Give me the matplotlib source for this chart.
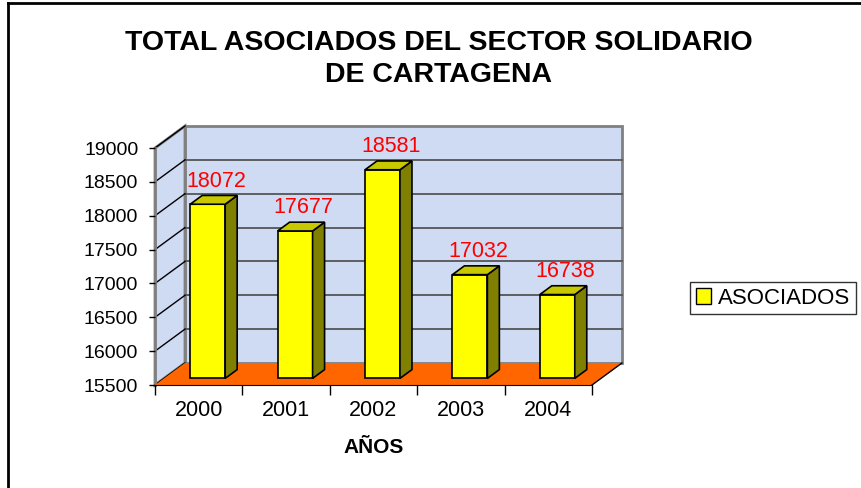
import matplotlib.pyplot as plt
from matplotlib.patches import Polygon

plt.rcParams['font.family'] = ['Liberation Sans', 'DejaVu Sans']

years = ['2000', '2001', '2002', '2003', '2004']
asociados = [18072, 17677, 18581, 17032, 16738]
y_ticks = [15500, 16000, 16500, 17000, 17500, 18000, 18500, 19000]

ymin, ymax = 15500, 19000
# depth of the fake 3d box, in data units (x: categories, y: values)
dx, dy = 0.343, 325
wall = '#cfdaf3'

fig = plt.figure(figsize=(8.61, 4.88), dpi=100)
ax = fig.add_axes([155 / 861, 103 / 488, 437 / 861, 237 / 488])
ax.set_xlim(-0.5, len(years) - 0.5)
ax.set_ylim(ymin, ymax)
ax.patch.set_visible(False)
for s in ['top', 'right', 'left']:
    ax.spines[s].set_visible(False)
ax.spines['bottom'].set_color('black')

x0, x1 = -0.5, len(years) - 0.5

# back wall
ax.add_patch(Polygon([(x0 + dx, ymin + dy), (x1 + dx, ymin + dy), (x1 + dx, ymax + dy), (x0 + dx, ymax + dy)],
                     closed=True, fc=wall, ec='#808080', lw=2, clip_on=False, zorder=0))
# left wall
ax.add_patch(Polygon([(x0, ymin), (x0 + dx, ymin + dy), (x0 + dx, ymax + dy), (x0, ymax)],
                     closed=True, fc=wall, ec='#808080', lw=2, clip_on=False, zorder=0))
# floor
ax.add_patch(Polygon([(x0, ymin), (x1, ymin), (x1 + dx, ymin + dy), (x0 + dx, ymin + dy)],
                     closed=True, fc='#ff6600', ec='none', clip_on=False, zorder=1))
ax.plot([x1, x1 + dx], [ymin, ymin + dy], color='black', lw=1, clip_on=False, zorder=2)

# gridlines on back wall and left wall
for t in y_ticks[1:-1]:
    ax.plot([x0 + dx, x1 + dx], [t + dy, t + dy], color='#555555', lw=1.3, clip_on=False, zorder=0.5)
for t in y_ticks:
    ax.plot([x0, x0 + dx], [t, t + dy], color='black', lw=1, clip_on=False, zorder=0.5)
ax.plot([x0, x0], [ymin, ymax], color='#808080', lw=2, clip_on=False, zorder=0.6)

# bars
bw = 0.40
bdx, bdy = 0.4 * dx, 0.4 * dy
off_x, off_y = 0.3 * dx, 0.3 * dy
for i, v in enumerate(asociados):
    xl = i + off_x - bw / 2
    xr = xl + bw
    b = ymin + off_y
    top = v + off_y
    ax.bar(i + off_x, v - ymin, bottom=b, width=bw, color='#ffff00', edgecolor='black', lw=1.2, zorder=3)
    ax.add_patch(Polygon([(xr, b), (xr + bdx, b + bdy), (xr + bdx, top + bdy), (xr, top)],
                         closed=True, fc='#808000', ec='black', lw=1.2, zorder=3, clip_on=False))
    ax.add_patch(Polygon([(xl, top), (xr, top), (xr + bdx, top + bdy), (xl + bdx, top + bdy)],
                         closed=True, fc='#c8c800', ec='black', lw=1.2, zorder=3, clip_on=False))
    ax.text(i + off_x + bdx * 0.7, top + bdy + 55, str(v), color='red', fontsize=15.5,
            ha='center', va='bottom', zorder=4, clip_on=False)

ax.set_yticks(y_ticks)
ax.set_yticklabels([str(t) for t in y_ticks], fontsize=14)
ax.tick_params(axis='y', length=4, width=1, color='black', pad=8)
ax.set_xticks([i - 0.5 for i in range(len(years) + 1)])
ax.set_xticklabels([''] * (len(years) + 1))
ax.tick_params(axis='x', which='major', length=7, width=1, color='black')
ax.set_xticks(range(len(years)), minor=True)
ax.set_xticklabels(years, minor=True, fontsize=15.5)
ax.tick_params(axis='x', which='minor', length=0, pad=11)
ax.set_xlabel('AÑOS', fontsize=15, fontweight='bold', labelpad=12)

fig.text(439 / 861, 1 - 59 / 488, 'TOTAL ASOCIADOS DEL SECTOR SOLIDARIO\nDE CARTAGENA',
         ha='center', va='center', fontsize=20.5, fontweight='bold', linespacing=1.3)

# legend
ax.bar([0], [0], color='#ffff00', edgecolor='black', label='ASOCIADOS')
leg = fig.legend(loc='center left', bbox_to_anchor=(690 / 861, 1 - 298 / 488), fontsize=16,
                 frameon=True, fancybox=False, edgecolor='black', handlelength=0.7, handleheight=0.7,
                 handletextpad=0.3, borderpad=0.25, borderaxespad=0)
leg.get_frame().set_linewidth(1)

# outer frame (left and top edges visible)
fig.add_artist(plt.Line2D([8 / 861, 8 / 861], [0, 1 - 3 / 488], color='black', lw=2, transform=fig.transFigure))
fig.add_artist(plt.Line2D([8 / 861, 1], [1 - 3 / 488, 1 - 3 / 488], color='black', lw=2, transform=fig.transFigure))

fig.savefig('out.png', dpi=100)
